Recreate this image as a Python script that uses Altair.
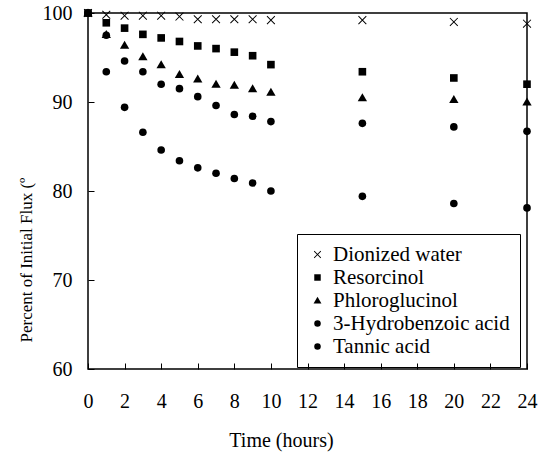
import altair as alt
import pandas as pd

hours = [0, 1, 2, 3, 4, 5, 6, 7, 8, 9, 10, 15, 20, 24]
water = [100, 99.8, 99.7, 99.7, 99.7, 99.6, 99.3, 99.3, 99.3, 99.3, 99.2, 99.2, 99.0, 98.8]
resorcinol = [100, 98.9, 98.3, 97.6, 97.2, 96.8, 96.3, 96.0, 95.6, 95.2, 94.2, 93.4, 92.7, 92.0]
phloroglucinol = [100, 97.6, 96.4, 95.1, 94.2, 93.1, 92.6, 92.0, 91.9, 91.5, 91.1, 90.5, 90.3, 90.0]
hydrobenzoic = [100, 97.5, 94.6, 93.4, 92.0, 91.5, 90.6, 89.6, 88.6, 88.4, 87.8, 87.6, 87.2, 86.7]
tannic = [100, 93.4, 89.4, 86.6, 84.6, 83.4, 82.6, 82.0, 81.4, 80.9, 80.0, 79.4, 78.6, 78.1]

series_names = ["Dionized water", "Resorcinol", "Phloroglucinol",
                "3-Hydrobenzoic acid", "Tannic acid"]
series_values = {
    "Dionized water": water,
    "Resorcinol": resorcinol,
    "Phloroglucinol": phloroglucinol,
    "3-Hydrobenzoic acid": hydrobenzoic,
    "Tannic acid": tannic,
}
draw_order = ["Dionized water", "Tannic acid", "3-Hydrobenzoic acid",
              "Phloroglucinol", "Resorcinol"]

rows = []
for name in draw_order:
    for t, v in zip(hours, series_values[name]):
        rows.append({"Time": t, "Flux": v, "Series": name})
df = pd.DataFrame(rows)

# thin "x" drawn as two filled diagonal bars (same winding), and a slightly
# larger triangle, both as custom symbol paths
cross = ("M-1.12,-0.94L-0.94,-1.12L1.12,0.94L0.94,1.12Z "
         "M0.94,-1.12L1.12,-0.94L-0.94,1.12L-1.12,0.94Z")
triangle = "M0,-1.15L1.22,0.95L-1.22,0.95Z"
shapes = [cross, "square", triangle, "circle", "circle"]
FONT = "Liberation Serif"

chart = alt.Chart(df).mark_point(
    filled=True, color="black", size=58, opacity=1
).encode(
    x=alt.X("Time:Q",
            scale=alt.Scale(domain=[0, 24], nice=False, zero=False),
            axis=alt.Axis(values=list(range(0, 25, 2)), title="Time (hours)",
                          offset=-6, tickSize=6, labelPadding=22,
                          labelFlush=False, labelOverlap=False,
                          titleX=193, titleY=83, titleBaseline="alphabetic",
                          titleFontSize=20)),
    y=alt.Y("Flux:Q",
            scale=alt.Scale(domain=[60, 100], nice=False, zero=False),
            axis=alt.Axis(values=[60, 70, 80, 90, 100],
                          title="Percent of Initial Flux (º",
                          offset=-6, tickSize=6, labelPadding=16,
                          labelFlush=False,
                          titleX=-63, titleY=329, titleAngle=-90,
                          titleAlign="left", titleBaseline="alphabetic",
                          titleFontSize=17)),
    shape=alt.Shape("Series:N",
                    scale=alt.Scale(domain=series_names, range=shapes),
                    legend=alt.Legend(
                        title=None, orient="none", legendX=209, legendY=221,
                        strokeColor="black", padding=10, rowPadding=1,
                        labelFont=FONT, labelFontSize=21, labelColor="black",
                        labelLimit=0, symbolSize=42, symbolOffset=0,
                        labelOffset=5, symbolFillColor="black",
                        symbolOpacity=1)),
).properties(
    width=439, height=356,
    autosize=alt.AutoSizeParams(type="none"),
    padding={"left": 88, "top": 13, "right": 18, "bottom": 85},
    background="white",
).configure(
    font=FONT
).configure_view(
    stroke="black", strokeWidth=1.5
).configure_axis(
    domain=False, grid=False, labelFont=FONT, labelFontSize=20,
    labelColor="black", tickColor="black", tickWidth=1,
    titleFont=FONT, titleFontWeight="normal", titleColor="black"
).configure_legend(
    labelFont=FONT
)

chart.save("out.html", embed_options={"renderer": "svg", "actions": False})
